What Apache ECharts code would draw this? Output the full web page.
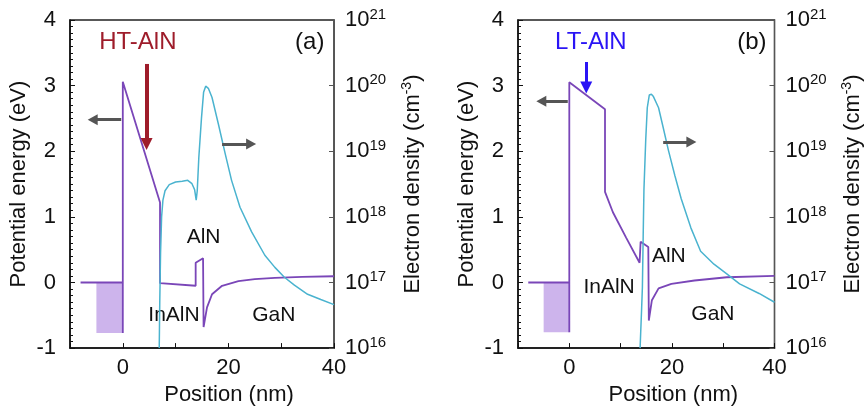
<!DOCTYPE html>
<html>
<head>
<meta charset="utf-8">
<script src="https://cdn.jsdelivr.net/npm/echarts@6/dist/echarts.min.js"></script>
<style>
  html, body { margin: 0; padding: 0; background: #fff; }
  #chart { width: 865px; height: 411px; }
</style>
</head>
<body>
<div id="chart"></div>
<script>
// potential energy (eV) vs position (nm)
var potentialA = [[-8,0],[0,0],[0,-0.77],[0,3.06],[7.05,1.22],[7.05,-0.01],[13.8,-0.05],[13.8,0.3],[15.2,0.37],[15.3,-0.68],[15.95,-0.38],[16.9,-0.18],[18.8,-0.05],[21.9,0.02],[25,0.05],[28.8,0.07],[34,0.085],[40,0.095]];
var potentialB = [[-8,0],[0,0],[0,-0.76],[0,3.05],[6.96,2.64],[6.96,1.38],[8.5,1.07],[11.1,0.68],[13.7,0.3],[13.85,0.28],[13.9,0.62],[15.4,0.54],[15.5,-0.58],[16.1,-0.27],[17.4,-0.09],[19.9,-0.02],[24.4,0.03],[30.7,0.08],[40,0.1]];
// electron density (cm-3) vs position (nm)
var densityA = [[6.9,1.0e16],[7.0,5.0e16],[7.15,2.8e17],[7.35,1.0e18],[7.6,1.8e18],[8.0,2.5e18],[8.8,3.1e18],[10.0,3.4e18],[11.25,3.5e18],[12.3,3.6e18],[13.1,3.2e18],[13.6,2.6e18],[13.9,1.8e18],[14.1,2.5e18],[14.4,8.1e18],[14.9,3.2e19],[15.3,7.9e19],[15.7,9.8e19],[16.2,9.1e19],[16.9,6.6e19],[18.1,2.6e19],[19.4,9.1e18],[20.6,3.6e18],[22.2,1.4e18],[24.4,5.9e17],[26.9,2.6e17],[28.8,1.7e17],[30.6,1.2e17],[32.5,9.1e16],[35.0,6.6e16],[37.5,5.5e16],[40.0,4.6e16]];
var densityB = [[13.8,1.0e16],[14.1,4.0e16],[14.25,8.5e16],[14.4,5.0e17],[14.55,2.6e18],[14.9,1.5e19],[15.2,4.6e19],[15.6,7.2e19],[16.0,7.4e19],[16.4,6.8e19],[17.4,4.6e19],[18.3,2.3e19],[19.3,1.05e19],[20.6,4.2e18],[21.8,1.9e18],[23.7,6.8e17],[25.6,3.0e17],[28.2,1.9e17],[30.7,1.35e17],[33.2,9.5e16],[37.0,6.8e16],[40.0,5.0e16]];
// shaded metal region [x0, y0], [x1, y1]
var metalA = [[-5,0],[0,-0.77]];
var metalB = [[-5,0],[0,-0.76]];
// axis arrows [from, to]
var grayArrowsA = [[[-0.3,2.48],[-5.7,2.48]],[[18.8,2.11],[24.3,2.11]]];
var grayArrowsB = [[[-0.3,2.76],[-5.45,2.76]],[[18.3,2.14],[23.8,2.14]]];
var redArrow = [[4.5,3.33],[4.5,2.11]];
var blueArrow = [[3.3,3.36],[3.3,2.97]];
// text labels [x, y, text]
var labelsA = [[15.3,0.69,'AlN'],[9.7,-0.5,'InAlN'],[28.6,-0.5,'GaN'],[35.4,3.66,'(a)']];
var labelsB = [[19.4,0.4,'AlN'],[7.75,-0.07,'InAlN'],[28,-0.49,'GaN'],[35.6,3.66,'(b)']];
var tagA = [2.85,3.66,'HT-AlN'];
var tagB = [4.2,3.66,'LT-AlN'];

var font = 'Liberation Sans, Arial, sans-serif';
var purple = '#7a46b8';
var cyan = '#4ab3cf';
var red = '#9e1c2a';
var blue = '#2a14f5';

function xAx(i) {
  return {
    type: 'value', gridIndex: i, min: -10, max: 40, interval: 10,
    axisLine: { onZero: false, lineStyle: { color: '#111', width: 1.5 } },
    axisTick: { inside: true, length: 5, lineStyle: { color: '#111' } },
    axisLabel: { fontSize: 22, color: '#111', fontFamily: font, margin: 9,
      formatter: function (v) { return v % 20 === 0 ? String(v) : ''; } },
    splitLine: { show: false },
    name: 'Position (nm)', nameLocation: 'middle', nameGap: 33,
    nameTextStyle: { fontSize: 22, color: '#111', fontFamily: font, padding: [0, 0, 0, 54] }
  };
}
function yLeft(i) {
  return {
    type: 'value', gridIndex: i, min: -1, max: 4, interval: 1,
    axisLine: { show: true, onZero: false, lineStyle: { color: '#111', width: 1.5 } },
    axisTick: { inside: true, length: 5, lineStyle: { color: '#111' } },
    minorTick: { show: true, splitNumber: 10, length: 3, lineStyle: { color: '#111' } },
    axisLabel: { fontSize: 22, color: '#111', fontFamily: font, margin: 14 },
    splitLine: { show: false },
    name: 'Potential energy (eV)', nameLocation: 'middle', nameGap: 40, nameRotate: 90,
    nameTextStyle: { fontSize: 22, color: '#111', fontFamily: font }
  };
}
function yRight(i) {
  return {
    type: 'log', gridIndex: i, logBase: 10, min: 1e16, max: 1e21, interval: 1,
    position: 'right',
    axisLine: { show: true, onZero: false, lineStyle: { color: '#555', width: 1 } },
    axisTick: { inside: true, length: 5, lineStyle: { color: '#555' } },
    axisLabel: {
      fontSize: 22, color: '#111', fontFamily: font, margin: 11,
      formatter: function (v) { return '10{sup|' + Math.round(Math.log10(v)) + '}'; },
      rich: { sup: { fontSize: 15, fontFamily: font, color: '#111', padding: [0, 0, 11, 0] } }
    },
    splitLine: { show: false },
    name: 'Electron density (cm{sup|-3})', nameLocation: 'middle', nameGap: 66, nameRotate: 90,
    nameTextStyle: { fontSize: 22, color: '#111', fontFamily: font,
      rich: { sup: { fontSize: 14, fontFamily: font, color: '#111', padding: [0, 0, 11, 0] } } }
  };
}

function panelSeries(i, pot, dens, metal, grays, colArrow, colColor, colWidth, labels, tag) {
  var ax = { xAxisIndex: i, yAxisIndex: 2 * i };
  var txt = labels.map(function (d) {
    return { value: [d[0], d[1]], name: d[2],
      label: { fontSize: d[2].charAt(0) === '(' ? 24 : 21 } };
  });
  txt.push({ value: [tag[0], tag[1]], name: tag[2], label: { fontSize: 24, color: colColor } });
  return [
    Object.assign({
      type: 'line', data: pot, symbol: 'none', silent: true,
      lineStyle: { color: purple, width: 1.8 },
      markArea: { silent: true, itemStyle: { color: '#cdb4ec' },
        data: [[{ coord: metal[0] }, { coord: metal[1] }]] }
    }, ax),
    { type: 'line', xAxisIndex: i, yAxisIndex: 2 * i + 1, data: dens, symbol: 'none', silent: true,
      lineStyle: { color: cyan, width: 1.5 } },
    Object.assign({
      type: 'line', data: [], silent: true,
      markLine: { silent: true, symbol: ['none', 'triangle'], symbolSize: [11, 10],
        label: { show: false }, lineStyle: { color: '#555', width: 3, type: 'solid' },
        data: grays.map(function (a) { return [{ coord: a[0] }, { coord: a[1] }]; }) }
    }, ax),
    Object.assign({
      type: 'line', data: [], silent: true,
      markLine: { silent: true, symbol: ['none', 'triangle'], symbolSize: [12, 12],
        label: { show: false }, lineStyle: { color: colColor, width: colWidth, type: 'solid' },
        data: [[{ coord: colArrow[0] }, { coord: colArrow[1] }]] }
    }, ax),
    Object.assign({
      type: 'scatter', data: txt, symbolSize: 0, silent: true,
      itemStyle: { color: 'rgba(0,0,0,0)', opacity: 1 },
      label: { show: true, position: 'inside', formatter: '{b}', color: '#111',
        opacity: 1, fontFamily: font }
    }, ax)
  ];
}

var chart = echarts.init(document.getElementById('chart'));
chart.setOption({
  animation: false,
  backgroundColor: '#fff',
  grid: [
    { left: 70, top: 20, width: 264, height: 335, show: true, borderColor: '#222', borderWidth: 1.5 },
    { left: 518, top: 20, width: 264, height: 336, show: true, borderColor: '#222', borderWidth: 1.5 }
  ],
  xAxis: [xAx(0), xAx(1)],
  yAxis: [yLeft(0), yRight(0), yLeft(1), yRight(1)],
  series: [].concat(
    panelSeries(0, potentialA, densityA, metalA, grayArrowsA, redArrow, red, 4, labelsA, tagA),
    panelSeries(1, potentialB, densityB, metalB, grayArrowsB, blueArrow, blue, 3, labelsB, tagB)
  )
});
</script>
</body>
</html>
